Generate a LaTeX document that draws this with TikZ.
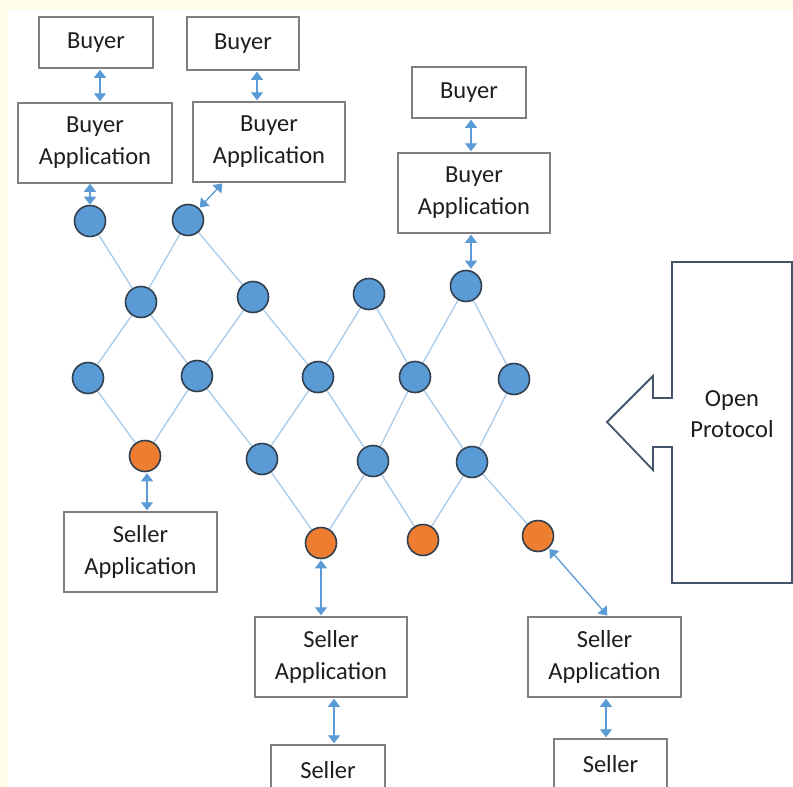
\documentclass[tikz,border=0pt]{standalone}
\usepackage{fontspec}
\setmainfont{Carlito}
\usetikzlibrary{arrows.meta,backgrounds}
\definecolor{cream}{HTML}{FFFCE8}
\definecolor{boxgray}{HTML}{7F7F7F}
\definecolor{txt}{HTML}{1E1E1E}
\definecolor{nodeblue}{HTML}{5B9BD5}
\definecolor{nodeorange}{HTML}{ED7D31}
\definecolor{rim}{HTML}{31404F}
\definecolor{edgeblue}{HTML}{A9CBEA}
\definecolor{arrowblue}{HTML}{5B9BD5}
\definecolor{slate}{HTML}{44546A}
\tikzset{
  box/.style={draw=boxgray, line width=1.5pt, fill=white, text=txt, align=center,
    inner sep=0pt, font=\fontsize{24.5}{32}\selectfont},
  bnode/.style={circle, draw=rim, line width=1.6pt, fill=nodeblue, minimum size=31pt, inner sep=0pt},
  onode/.style={circle, draw=rim, line width=1.6pt, fill=nodeorange, minimum size=31pt, inner sep=0pt},
  mesh/.style={draw=edgeblue, line width=1.3pt},
  link/.style={draw=arrowblue, line width=1.3pt, {Triangle[width=12pt,length=8pt]}-{Triangle[width=12pt,length=8pt]}, shorten <=1pt, shorten >=1pt},
}
\begin{document}
\begin{tikzpicture}[x=1pt,y=-1pt]
\useasboundingbox (0,0) rectangle (793,787);
\clip (0,0) rectangle (793,787);
\begin{pgfonlayer}{background}
\fill[cream] (0,0) rectangle (793,787);
\fill[white] (8,10) rectangle (793,787);
\end{pgfonlayer}

% boxes
\node[box, minimum width=114pt, minimum height=51pt] (b1) at (96,42.5) {Buyer};
\node[box, minimum width=112pt, minimum height=53pt] (b2) at (243,43.5) {Buyer};
\node[box, minimum width=154pt, minimum height=80pt] (ba1) at (95,143) {Buyer\\Application};
\node[box, minimum width=152pt, minimum height=80pt] (ba2) at (269,142) {Buyer\\Application};
\node[box, minimum width=114pt, minimum height=51pt] (b3) at (469,92.5) {Buyer};
\node[box, minimum width=152pt, minimum height=80pt] (ba3) at (474,193) {Buyer\\Application};
\node[box, minimum width=153pt, minimum height=80pt] (sa1) at (140.5,552) {Seller\\Application};
\node[box, minimum width=152pt, minimum height=80pt] (sa2) at (331,657) {Seller\\Application};
\node[box, minimum width=153pt, minimum height=80pt] (sa3) at (604.5,657) {Seller\\Application};
\node[box, minimum width=114pt, minimum height=51pt] (s2) at (328,770.5) {Seller};
\node[box, minimum width=113pt, minimum height=51pt] (s3) at (610.5,764.5) {Seller};

% mesh nodes
\node[bnode] (A) at (90,221) {};
\node[bnode] (B) at (188,220) {};
\node[bnode] (C) at (141,302) {};
\node[bnode] (D) at (253,297) {};
\node[bnode] (E) at (369,294) {};
\node[bnode] (F) at (466,286) {};
\node[bnode] (G) at (88,378) {};
\node[bnode] (H) at (197,376) {};
\node[bnode] (I) at (318,377) {};
\node[bnode] (J) at (415,377) {};
\node[bnode] (K) at (514,379) {};
\node[onode] (L) at (145,456) {};
\node[bnode] (M) at (262,459) {};
\node[bnode] (N) at (373,461) {};
\node[bnode] (O) at (472,462) {};
\node[onode] (P) at (321,543) {};
\node[onode] (Q) at (423,540) {};
\node[onode] (R) at (538,536) {};

% mesh edges (behind nodes)
\begin{pgfonlayer}{background}
\foreach \u/\v in {A/C,B/C,B/D,C/G,C/H,D/H,D/I,E/I,E/J,F/J,F/K,G/L,H/L,H/M,I/M,I/N,J/N,J/O,K/O,M/P,N/P,N/Q,O/Q,O/R}
  \draw[mesh] (\u) -- (\v);
\end{pgfonlayer}

% double arrows
\draw[link] ([xshift=4pt]b1.south) -- ([xshift=5pt]ba1.north);
\draw[link] ([xshift=14pt]b2.south) -- ([xshift=-12pt]ba2.north);
\draw[link, shorten <=0pt, shorten >=0pt] (A |- ba1.south) -- (A);
\draw[link] ([xshift=-46pt]ba2.south) -- (B);
\draw[link] ([xshift=2pt]b3.south) -- ([xshift=-3pt]ba3.north);
\draw[link] ([xshift=-3pt]ba3.south) -- ([xshift=5pt]F.north);
\draw[link] ([xshift=2pt]L.south) -- ([xshift=6.5pt]sa1.north);
\draw[link] (P) -- (P |- sa2.north);
\draw[link] (R) -- ([xshift=3.5pt]sa3.north);
\draw[link] ([xshift=3pt]sa2.south) -- ([xshift=6pt]s2.north);
\draw[link] ([xshift=1.5pt]sa3.south) -- ([xshift=-4.5pt]s3.north);

% open protocol shape
\draw[slate, line width=1.8pt, fill=white, line join=miter]
  (672,262) -- (792,262) -- (792,583) -- (672,583) -- (672,447) -- (653,447)
  -- (653,470) -- (607,422) -- (653,376) -- (653,398) -- (672,398) -- cycle;
\node[text=txt, align=center, font=\fontsize{24.5}{31}\selectfont] (op) at (732,414) {Open\\Protocol};
\end{tikzpicture}
\end{document}
